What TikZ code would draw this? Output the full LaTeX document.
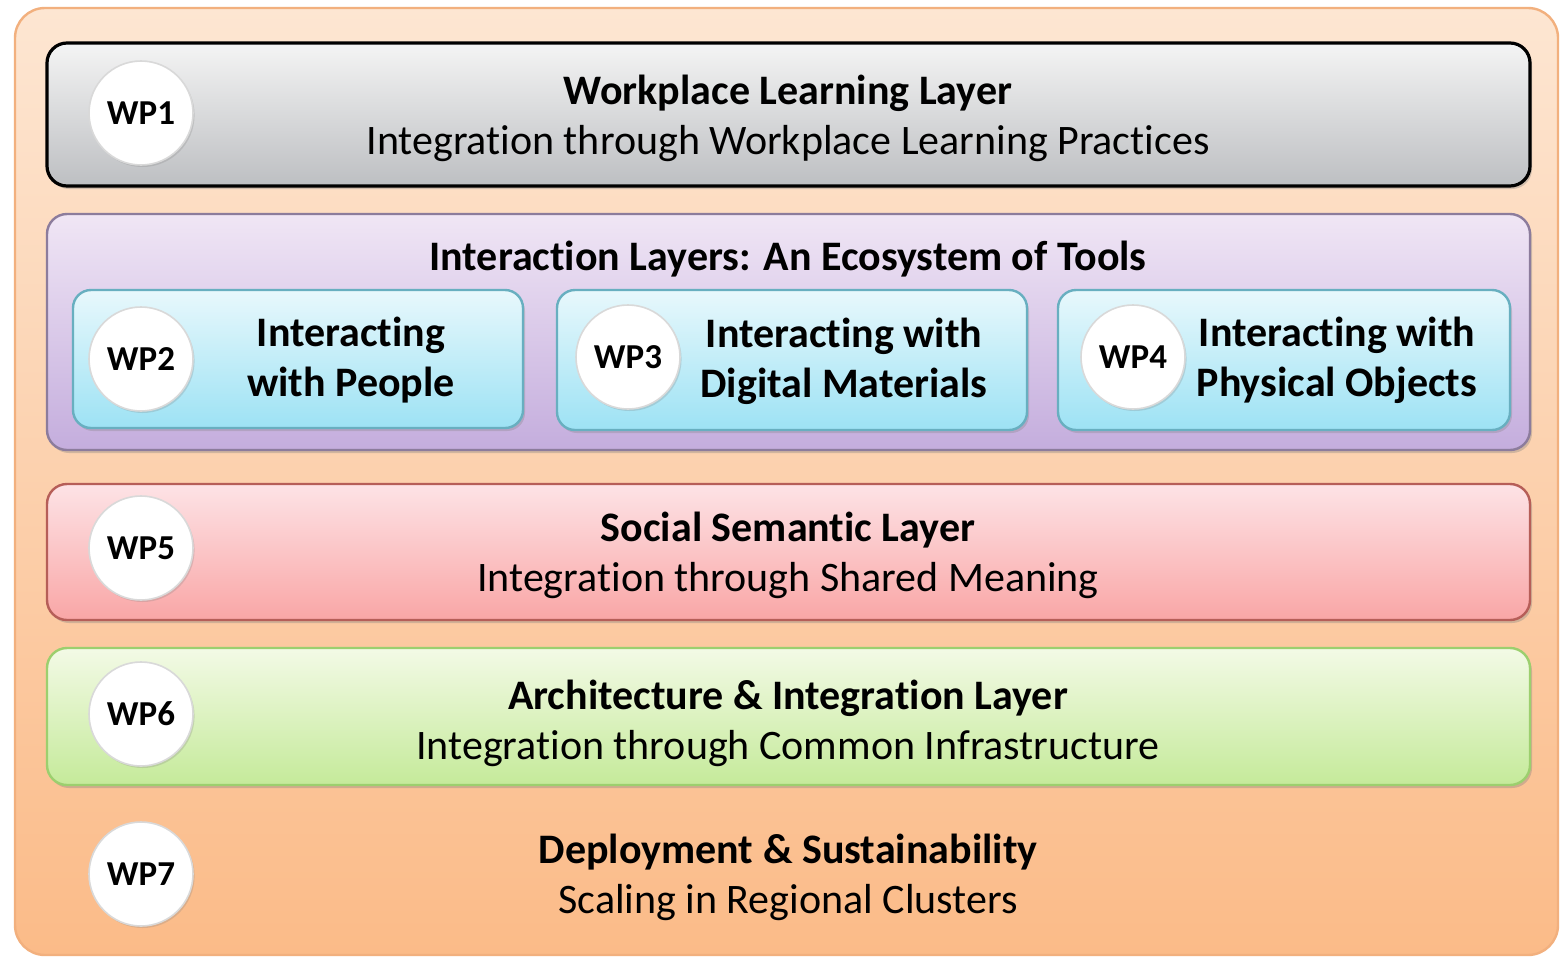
\documentclass[tikz,border=0pt]{standalone}
\usepackage{fontspec}
\setmainfont{Carlito}[Ligatures=NoCommon]
\usetikzlibrary{shadows}

\definecolor{orangeTop}{HTML}{FDE6D2}
\definecolor{orangeBot}{HTML}{FBBB88}
\definecolor{orangeLine}{HTML}{F2B07E}
\definecolor{grayTop}{HTML}{F4F4F4}
\definecolor{grayBot}{HTML}{BDBFC2}
\definecolor{purpleTop}{HTML}{F0E6F5}
\definecolor{purpleBot}{HTML}{C4ADDD}
\definecolor{purpleLine}{HTML}{8C7C9C}
\definecolor{cyanTop}{HTML}{E8F8FC}
\definecolor{cyanBot}{HTML}{9DE2F4}
\definecolor{cyanLine}{HTML}{68AFC0}
\definecolor{pinkTop}{HTML}{FDE3E6}
\definecolor{pinkBot}{HTML}{F9A6A6}
\definecolor{pinkLine}{HTML}{B65E58}
\definecolor{greenTop}{HTML}{F3FAE6}
\definecolor{greenBot}{HTML}{C5EA9A}
\definecolor{greenLine}{HTML}{9CCF6E}

\tikzset{
    layer/.style={rounded corners=10pt, line width=1.2pt, minimum width=741.5pt,
        drop shadow={opacity=0.35, shadow xshift=1pt, shadow yshift=-1.5pt}},
    layertext/.style={align=center, font=\fontsize{21}{25}\selectfont},
    toolbox/.style={rounded corners=9pt, line width=1.2pt, draw=cyanLine,
        top color=cyanTop, bottom color=cyanBot,
        drop shadow={opacity=0.3, shadow xshift=1pt, shadow yshift=-1.5pt}},
    wp/.style={circle, fill=white, draw=gray!30, line width=0.8pt, minimum size=52pt,
        inner sep=0pt, font=\fontsize{17.5}{20}\selectfont\bfseries,
        drop shadow={opacity=0.25, shadow xshift=0.8pt, shadow yshift=-1pt}},
    tooltext/.style={align=center, font=\fontsize{21}{25}\selectfont\bfseries}
}

\begin{document}
\begin{tikzpicture}[x=0.5pt, y=-0.5pt]
    \useasboundingbox[fill=white] (0,0) rectangle (1561,958);
    % outer frame
    \node[rounded corners=15pt, draw=orangeLine, line width=1.2pt, top color=orangeTop,
        bottom color=orangeBot, minimum width=771.5pt, minimum height=473.5pt] (frame) at (786.5,481.5) {};

    % layers
    \node[layer, draw=black, line width=1.6pt, top color=grayTop, bottom color=grayBot,
        minimum height=71.5pt] (wl) at (788.5,114.5) {};
    \node[layertext] (wltext) at (788,118.5)
        {\textbf{Workplace Learning Layer}\\Integration through Workplace Learning Practices};
    \node[layer, draw=purpleLine, top color=purpleTop, bottom color=purpleBot,
        minimum height=118pt] (il) at (788.5,332) {};
    \node[font=\fontsize{21}{25}\selectfont\bfseries] (iltitle) at (788,259)
        {Interaction Layers: An Ecosystem of Tools};
    \node[layer, draw=pinkLine, top color=pinkTop, bottom color=pinkBot,
        minimum height=68pt] (ss) at (788.5,552) {};
    \node[layertext] (sstext) at (788,555)
        {\textbf{Social Semantic Layer}\\Integration through Shared Meaning};
    \node[layer, draw=greenLine, top color=greenTop, bottom color=greenBot,
        minimum height=68.5pt] (ai) at (788.5,716.5) {};
    \node[layertext] (aitext) at (788,723)
        {\textbf{Architecture \& Integration Layer}\\Integration through Common Infrastructure};
    \node[layertext] (ds) at (788,877)
        {\textbf{Deployment \& Sustainability}\\Scaling in Regional Clusters};

    % tool boxes
    \node[toolbox, minimum width=225pt, minimum height=69pt] (people) at (298,359) {};
    \node[toolbox, minimum width=235pt, minimum height=70pt] (digital) at (792,360) {};
    \node[toolbox, minimum width=226pt, minimum height=70pt] (physical) at (1284,360) {};
    \node[tooltext] (peopletext) at (351,360) {Interacting\\with People};
    \node[tooltext] (digitaltext) at (844,361) {Interacting with\\Digital Materials};
    \node[tooltext] (physicaltext) at (1337,360) {Interacting with\\Physical Objects};

    % work packages
    \node[wp] (wp1) at (141,113) {WP1};
    \node[wp] (wp2) at (141,359) {WP2};
    \node[wp] (wp3) at (628,357) {WP3};
    \node[wp] (wp4) at (1133,357) {WP4};
    \node[wp] (wp5) at (141,548) {WP5};
    \node[wp] (wp6) at (141,714) {WP6};
    \node[wp] (wp7) at (141,874) {WP7};
\end{tikzpicture}
\end{document}
